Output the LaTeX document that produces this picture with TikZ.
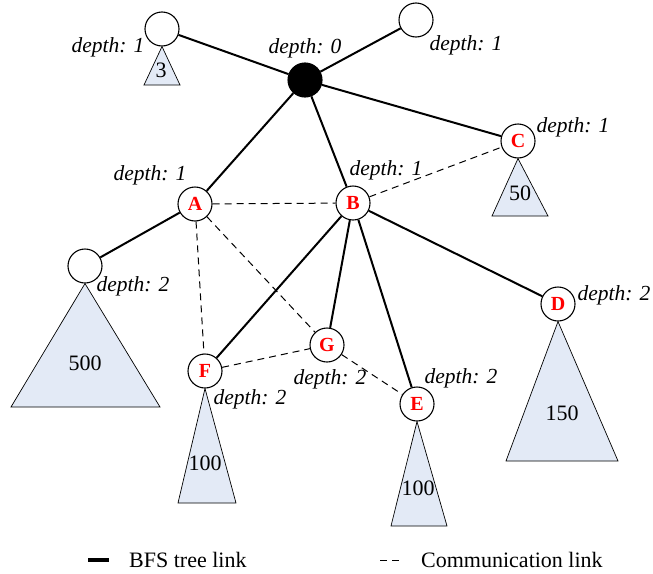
\documentclass[tikz,border=0pt]{standalone}
\usepackage{fontspec}
\setmainfont{Liberation Serif}
\usetikzlibrary{positioning, backgrounds}
\definecolor{treefill}{RGB}{227,234,246}

\begin{document}
\begin{tikzpicture}[x=1pt, y=-1pt,
  nd/.style={circle, draw, line width=1.1pt, fill=white, minimum size=34pt,
    inner sep=0pt, text=red, font=\fontsize{20}{22}\selectfont\bfseries},
  tri/.style={draw, line width=0.7pt, fill=treefill},
  num/.style={font=\fontsize{22}{24}\selectfont, inner sep=0pt},
  dep/.style={font=\fontsize{21.5}{23}\selectfont\itshape, inner sep=0pt},
  lnk/.style={line width=2pt},
  com/.style={line width=1pt, dash pattern=on 7pt off 5pt},
]
\useasboundingbox (0,0) rectangle (653,573);

% nodes
\node[nd, fill=black] (r) at (305,80) {};
\node[nd] (tl) at (162,29) {};
\node[nd] (tr) at (416,20) {};
\node[nd] (C) at (518,141) {C};
\node[nd] (A) at (195,204) {A};
\node[nd] (B) at (353,203) {B};
\node[nd] (L) at (85,266) {};
\node[nd] (G) at (327,345) {G};
\node[nd] (F) at (205,371) {F};
\node[nd] (E) at (417,404) {E};
\node[nd] (D) at (558,304) {D};

% subtrees
\begin{scope}[on background layer]
\draw[tri] (tl.south) -- (144,85) -- (180,85) -- cycle;
\draw[tri] (C.south) -- (492,216) -- (548,216) -- cycle;
\draw[tri] (L.south) -- (11,407) -- (160,407) -- cycle;
\draw[tri] (F.south) -- (178,503) -- (236,503) -- cycle;
\draw[tri] (E.south) -- (391,526) -- (447,526) -- cycle;
\draw[tri] (D.south) -- (506,461) -- (618,461) -- cycle;
\end{scope}
\node[num] (n3) at (161,70) {3};
\node[num] (n50) at (520,193) {50};
\node[num] (n500) at (85,363) {500};
\node[num] (n100a) at (205,463) {100};
\node[num] (n100b) at (418,488) {100};
\node[num] (n150) at (562,413) {150};

% depths
\node[dep] at (305,48) {depth: 0};
\node[dep] at (108,47) {depth: 1};
\node[dep] at (466,45) {depth: 1};
\node[dep] at (573,127) {depth: 1};
\node[dep] at (386,170) {depth: 1};
\node[dep] at (150,175) {depth: 1};
\node[dep] at (133,286) {depth: 2};
\node[dep] at (330,379) {depth: 2};
\node[dep] at (250,399) {depth: 2};
\node[dep] at (461,378) {depth: 2};
\node[dep] at (614,295) {depth: 2};

% BFS tree links
\draw[lnk] (r) -- (tl);
\draw[lnk] (r) -- (tr);
\draw[lnk] (r) -- (C);
\draw[lnk] (r) -- (A);
\draw[lnk] (r) -- (B);
\draw[lnk] (A) -- (L);
\draw[lnk] (B) -- (F);
\draw[lnk] (B) -- (G);
\draw[lnk] (B) -- (E);
\draw[lnk] (B) -- (D);

% communication links
\draw[com] (A) -- (B);
\draw[com] (B) -- (C);
\draw[com] (A) -- (F);
\draw[com] (A) -- (G);
\draw[com] (F) -- (G);
\draw[com] (G) -- (E);

% legend
\coordinate (k1) at (88,560);
\coordinate (k2) at (109,560);
\coordinate (k3) at (380,560);
\coordinate (k4) at (400,560);
\draw[line width=3.5pt] (k1) -- (k2);
\draw[line width=1pt, dash pattern=on 7pt off 5pt] (k3) -- (k4);
\node[num, anchor=west] (bfs) at (129,560) {BFS tree link};
\node[num, anchor=west] (cl) at (421,560) {Communication link};
\end{tikzpicture}
\end{document}
